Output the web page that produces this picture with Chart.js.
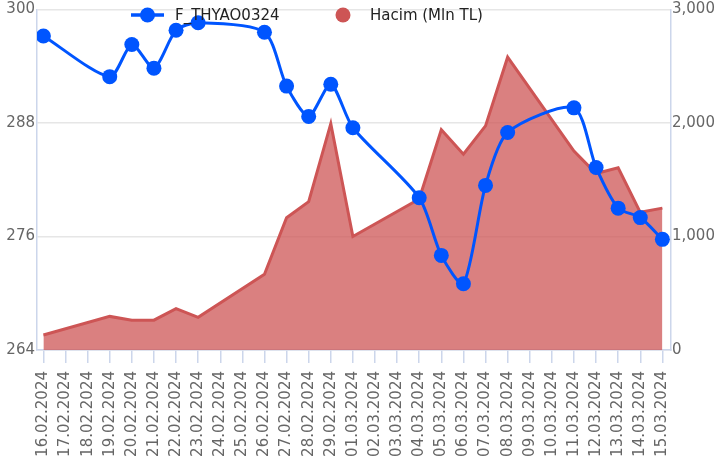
<!DOCTYPE html>
<html>
<head>
<meta charset="utf-8">
<script src="https://cdn.jsdelivr.net/npm/chart.js@4"></script>
<style>
  html, body { margin: 0; padding: 0; background: #fff; overflow: hidden; }
  #wrap { width: 717px; height: 470px; position: relative; }
</style>
</head>
<body>
<div id="wrap"><canvas id="thyaoChart"></canvas></div>
<script>
const dates = [
    '16.02.2024', '17.02.2024', '18.02.2024', '19.02.2024', '20.02.2024', '21.02.2024', '22.02.2024',
    '23.02.2024', '24.02.2024', '25.02.2024', '26.02.2024', '27.02.2024', '28.02.2024', '29.02.2024',
    '01.03.2024', '02.03.2024', '03.03.2024', '04.03.2024', '05.03.2024', '06.03.2024', '07.03.2024',
    '08.03.2024', '09.03.2024', '10.03.2024', '11.03.2024', '12.03.2024', '13.03.2024', '14.03.2024',
    '15.03.2024'
];
// weekends have no trading -> null (line spans the gap)
const price = [297.2, null, null, 292.9, 296.3, 293.8, 297.8, 298.6, null, null, 297.6, 291.9, 288.7, 292.1,
    287.5, null, null, 280.1, 274.0, 271.0, 281.4, 287.0, null, null, 289.6, 283.3, 279.0, 278.0, 275.7];
const volume = [132, null, null, 296, 262, 263, 365, 288, null, null, 667, 1165, 1307, 1994,
    1000, null, null, 1330, 1940, 1725, 1975, 2580, null, null, 1752, 1555, 1605, 1213, 1250];
const priceTicks = [264, 276, 288, 300];
const volumeTicks = [0, 1000, 2000, 3000];

const priceLabel = 'F_THYAO0324';
const volumeLabel = 'Hacim (Mln TL)';

Chart.defaults.font.family = '"DejaVu Sans", sans-serif';
Chart.defaults.font.size = 15;
Chart.defaults.color = '#666666';

const AXIS_COLOR = '#ccd6eb';
const BLUE = '#0055ff';
const RED = 'rgb(205, 85, 85)';

// legend sits inside the plot, on top of everything
const floatingLegend = {
    id: 'floatingLegend',
    afterDraw(chart) {
        const ctx = chart.ctx;
        const y = 15;
        ctx.save();
        // line series icon: line + dot
        ctx.strokeStyle = BLUE;
        ctx.lineWidth = 3.5;
        ctx.beginPath();
        ctx.moveTo(131, y);
        ctx.lineTo(164, y);
        ctx.stroke();
        ctx.fillStyle = BLUE;
        ctx.beginPath();
        ctx.arc(147.5, y, 7.5, 0, Math.PI * 2);
        ctx.fill();
        // area series icon: dot
        ctx.fillStyle = RED;
        ctx.beginPath();
        ctx.arc(343, y, 7.5, 0, Math.PI * 2);
        ctx.fill();

        ctx.font = '15px "DejaVu Sans", sans-serif';
        ctx.fillStyle = '#222222';
        ctx.textBaseline = 'middle';
        ctx.fillText(chart.data.datasets[0].label, 175, y + 1);
        ctx.fillText(chart.data.datasets[1].label, 370, y + 1);
        ctx.restore();
    }
};

const ctx = document.getElementById('thyaoChart').getContext('2d');
new Chart(ctx, {
    type: 'line',
    data: {
        datasets: [{
            label: priceLabel,
            data: price.map((v, i) => ({ x: i, y: v })),
            yAxisID: 'y',
            borderColor: BLUE,
            backgroundColor: BLUE,
            borderWidth: 3,
            pointRadius: 7.5,
            pointBorderWidth: 0,
            pointBackgroundColor: BLUE,
            tension: 0.25,
            spanGaps: true,
            fill: false,
            order: 0
        }, {
            label: volumeLabel,
            data: volume.map((v, i) => ({ x: i, y: v })),
            yAxisID: 'y1',
            borderColor: RED,
            backgroundColor: 'rgba(205, 85, 85, 0.75)',
            borderWidth: 3,
            pointRadius: 0,
            tension: 0,
            spanGaps: true,
            fill: 'origin',
            order: 1
        }]
    },
    options: {
        responsive: true,
        maintainAspectRatio: false,
        animation: false,
        layout: { padding: { top: 8, bottom: 0, left: 0, right: 0 } },
        plugins: {
            legend: { display: false },
            tooltip: { enabled: false }
        },
        scales: {
            x: {
                type: 'linear',
                min: -0.29,
                max: dates.length - 1 + 0.39,
                afterFit: s => { s.height = 120; },
                ticks: {
                    stepSize: 1,
                    includeBounds: false,
                    autoSkip: false,
                    maxTicksLimit: 60,
                    minRotation: 90,
                    maxRotation: 90,
                    padding: 8,
                    color: '#666666',
                    callback: v => dates[v] ?? ''
                },
                grid: {
                    drawOnChartArea: false,
                    color: AXIS_COLOR,
                    lineWidth: 1.5,
                    tickLength: 13
                },
                border: { color: AXIS_COLOR, width: 1.5 }
            },
            y: {
                position: 'left',
                min: priceTicks[0],
                max: priceTicks[priceTicks.length - 1],
                afterFit: s => { s.width = 37; },
                ticks: {
                    stepSize: priceTicks[1] - priceTicks[0],
                    padding: 2,
                    color: '#666666',
                    font: { lineHeight: 1 }
                },
                grid: {
                    color: '#e6e6e6',
                    lineWidth: 1.5,
                    drawTicks: false
                },
                border: { color: AXIS_COLOR, width: 1.5 }
            },
            y1: {
                position: 'right',
                min: volumeTicks[0],
                max: volumeTicks[volumeTicks.length - 1],
                afterFit: s => { s.width = 46; },
                ticks: {
                    stepSize: volumeTicks[1] - volumeTicks[0],
                    padding: 1,
                    color: '#666666',
                    font: { lineHeight: 1 }
                },
                grid: {
                    drawOnChartArea: false,
                    drawTicks: false
                },
                border: { color: AXIS_COLOR, width: 1.5 }
            }
        }
    },
    plugins: [floatingLegend]
});
</script>
</body>
</html>
